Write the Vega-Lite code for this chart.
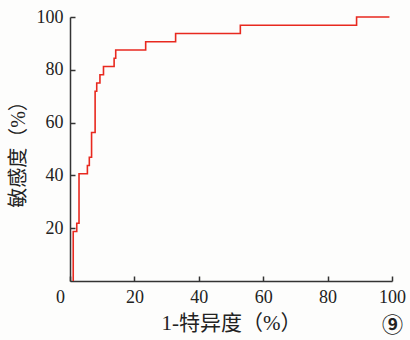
{
  "$schema": "https://vega.github.io/schema/vega-lite/v6.json",
  "width": 322,
  "height": 264,
  "autosize": {"type": "none"},
  "padding": {"left": 70, "top": 17, "right": 18, "bottom": 59},
  "background": "#fdfdfc",
  "config": {"view": {"stroke": null}},
  "title": {
    "text": "⑨",
    "orient": "bottom",
    "anchor": "end",
    "frame": "group",
    "fontSize": 21,
    "font": "Noto Sans CJK SC",
    "fontWeight": "bold",
    "color": "#222",
    "offset": -18,
    "dx": 11
  },
  "data": {
    "values": [
      {"fpr": 1.0, "tpr": 0},
      {"fpr": 1.0, "tpr": 18.75},
      {"fpr": 2.1, "tpr": 21.875},
      {"fpr": 2.8, "tpr": 40.625},
      {"fpr": 5.4, "tpr": 43.75},
      {"fpr": 6.0, "tpr": 46.875},
      {"fpr": 6.7, "tpr": 56.25},
      {"fpr": 7.8, "tpr": 71.875},
      {"fpr": 8.3, "tpr": 75},
      {"fpr": 9.3, "tpr": 78.125},
      {"fpr": 10.4, "tpr": 81.25},
      {"fpr": 13.7, "tpr": 84.375},
      {"fpr": 14.2, "tpr": 87.5},
      {"fpr": 23.5, "tpr": 90.625},
      {"fpr": 32.8, "tpr": 93.75},
      {"fpr": 52.9, "tpr": 96.875},
      {"fpr": 89.0, "tpr": 100},
      {"fpr": 99.2, "tpr": 100}
    ]
  },
  "mark": {"type": "line", "interpolate": "step-after", "color": "#e8291f", "strokeWidth": 1.6},
  "encoding": {
    "x": {
      "field": "fpr",
      "type": "quantitative",
      "scale": {"domain": [0, 100], "nice": false},
      "axis": {
        "title": "1-特异度（%）",
        "values": [0, 20, 40, 60, 80, 100],
        "grid": false,
        "domainColor": "#333",
        "domainWidth": 1.5,
        "tickColor": "#333",
        "tickWidth": 1.5,
        "tickSize": -5,
        "labelPadding": 12,
        "labelFont": "Liberation Serif",
        "labelFontSize": 18,
        "labelColor": "#222",
        "labelFlush": false,
        "labelOffset": {"condition": {"test": "datum.value == 0", "value": -10}, "value": 0},
        "titleFont": "Liberation Serif, Noto Sans CJK SC",
        "titleFontSize": 21,
        "titleFontWeight": "normal",
        "titleColor": "#222",
        "titlePadding": 6
      }
    },
    "y": {
      "field": "tpr",
      "type": "quantitative",
      "scale": {"domain": [0, 100], "nice": false},
      "axis": {
        "title": "敏感度（%）",
        "values": [20, 40, 60, 80, 100],
        "grid": false,
        "domainColor": "#333",
        "domainWidth": 1.5,
        "tickColor": "#333",
        "tickWidth": 1.5,
        "tickSize": -5,
        "labelPadding": 12,
        "labelFont": "Liberation Serif",
        "labelFontSize": 18,
        "labelColor": "#222",
        "labelFlush": false,
        "titleFont": "Liberation Serif, Noto Sans CJK SC",
        "titleFontSize": 20,
        "titleFontWeight": "normal",
        "titleColor": "#222",
        "titlePadding": 8
      }
    }
  }
}
